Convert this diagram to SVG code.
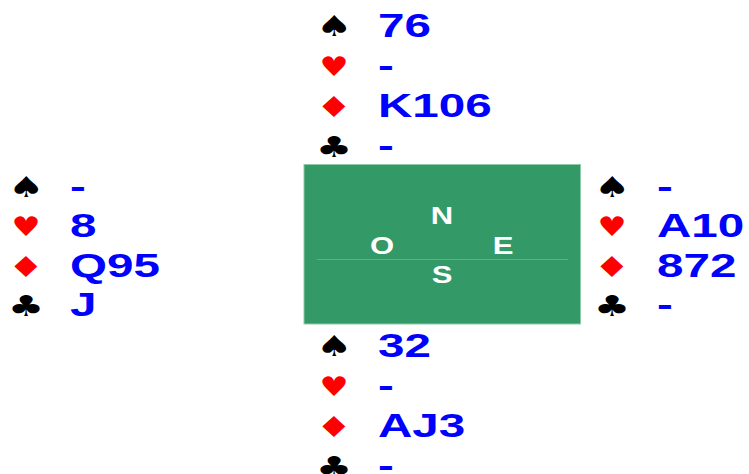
<svg xmlns="http://www.w3.org/2000/svg" width="749" height="474" viewBox="0 0 749 474">
<style>
.c{font-family:"Liberation Sans",Arial,sans-serif;font-weight:bold;font-size:34px;fill:#0000ff}
.s{font-family:"DejaVu Sans",sans-serif;font-size:29px;text-anchor:middle}
.k{fill:#000}
.r{fill:#ff0000}
.h{font-size:27px}
.d{font-family:"Liberation Sans",Arial,sans-serif;font-weight:bold;font-size:23px;fill:#fff;text-anchor:middle}
</style>
<rect width="749" height="474" fill="#fff"/>
<g id="table">
<rect x="304" y="164.5" width="276.5" height="159.5" fill="#339966" stroke="#8fc9a9" stroke-width="1"/>
<line x1="317" y1="259.5" x2="568" y2="259.5" stroke="#5fb085" stroke-width="1"/>
<text class="d" transform="translate(442,224) scale(1.35,1)">N</text>
<text class="d" transform="translate(382,254) scale(1.35,1)">O</text>
<text class="d" transform="translate(503,254) scale(1.35,1)">E</text>
<text class="d" transform="translate(442,283) scale(1.35,1)">S</text>
</g>
<g id="north">
<text class="s k" transform="translate(334,36) scale(1.4,1)">♠</text>
<text class="s r h" transform="translate(334,76) scale(1.2,1)">♥</text>
<text class="s r" transform="translate(334,117) scale(1.4,1)">♦</text>
<text class="s k" transform="translate(334,157) scale(1.4,1)">♣</text>
<text class="c" transform="translate(378,37) scale(1.4,1)">76</text>
<text class="c" transform="translate(378,77) scale(1.4,1)">-</text>
<text class="c" transform="translate(378,117) scale(1.4,1)">K106</text>
<text class="c" transform="translate(378,157) scale(1.4,1)">-</text>
</g>
<g id="west">
<text class="s k" transform="translate(26,197) scale(1.4,1)">♠</text>
<text class="s r h" transform="translate(26,236) scale(1.2,1)">♥</text>
<text class="s r" transform="translate(26,277) scale(1.4,1)">♦</text>
<text class="s k" transform="translate(26,316) scale(1.4,1)">♣</text>
<text class="c" transform="translate(70,198) scale(1.4,1)">-</text>
<text class="c" transform="translate(70,237) scale(1.4,1)">8</text>
<text class="c" transform="translate(70,277) scale(1.4,1)">Q95</text>
<text class="c" transform="translate(70,316) scale(1.4,1)">J</text>
</g>
<g id="east">
<text class="s k" transform="translate(612,197) scale(1.4,1)">♠</text>
<text class="s r h" transform="translate(612,236) scale(1.2,1)">♥</text>
<text class="s r" transform="translate(612,277) scale(1.4,1)">♦</text>
<text class="s k" transform="translate(612,316) scale(1.4,1)">♣</text>
<text class="c" transform="translate(657,198) scale(1.4,1)">-</text>
<text class="c" transform="translate(657,237) scale(1.4,1)">A10</text>
<text class="c" transform="translate(657,277) scale(1.4,1)">872</text>
<text class="c" transform="translate(657,316) scale(1.4,1)">-</text>
</g>
<g id="south">
<text class="s k" transform="translate(334,356) scale(1.4,1)">♠</text>
<text class="s r h" transform="translate(334,396) scale(1.2,1)">♥</text>
<text class="s r" transform="translate(334,437) scale(1.4,1)">♦</text>
<text class="s k" transform="translate(334,477) scale(1.4,1)">♣</text>
<text class="c" transform="translate(378,357) scale(1.4,1)">32</text>
<text class="c" transform="translate(378,397) scale(1.4,1)">-</text>
<text class="c" transform="translate(378,437) scale(1.4,1)">AJ3</text>
<text class="c" transform="translate(378,477) scale(1.4,1)">-</text>
</g>
</svg>
